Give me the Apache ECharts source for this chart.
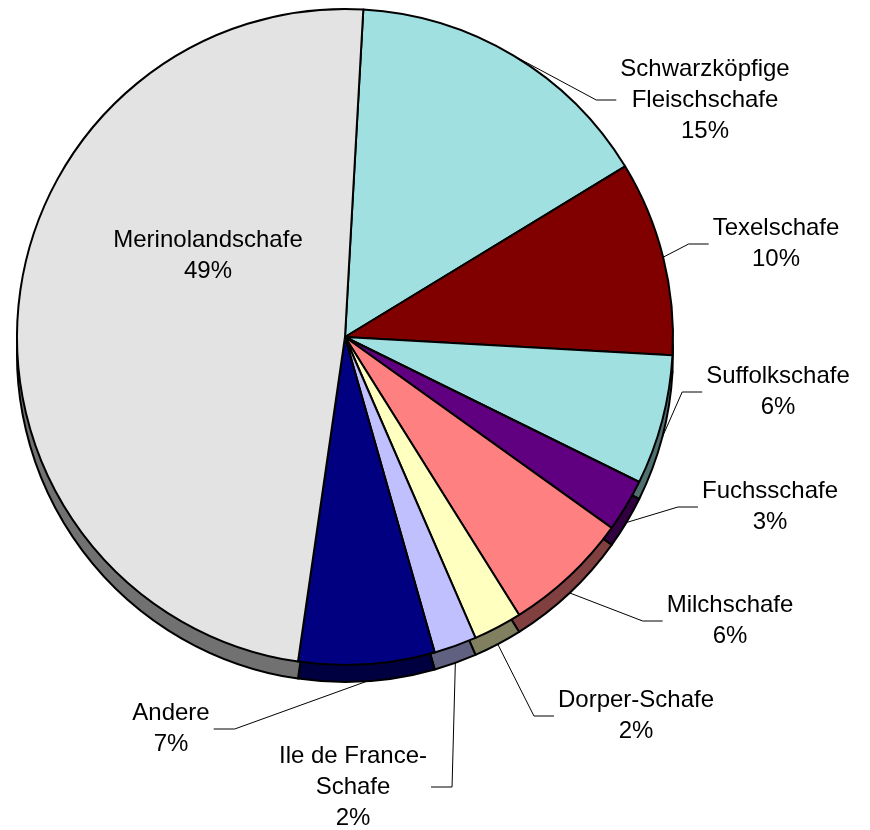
<!DOCTYPE html>
<html>
<head>
<meta charset="utf-8">
<script src="https://cdn.jsdelivr.net/npm/echarts@6/dist/echarts.min.js"></script>
<style>html,body{margin:0;padding:0;background:#fff}#c{width:870px;height:830px}</style>
</head>
<body>
<div id="c"></div>
<script>
// Data (clockwise from top)
var categories = ['Schwarzköpfige\nFleischschafe', 'Texelschafe', 'Suffolkschafe', 'Fuchsschafe', 'Milchschafe', 'Dorper-Schafe', 'Ile de France-\nSchafe', 'Andere', 'Merinolandschafe'];
var shares = [15.4, 9.6, 6.4, 2.6, 6.2, 2.4, 2.1, 6.7, 48.6];

// Styles
var topColors = ['#A0E0E0', '#800000', '#A0E0E0', '#600080', '#FF8080', '#FFFFC0', '#C0C0FF', '#000080', '#E3E3E3'];
var sideColors = ['#507070', '#400000', '#507070', '#300040', '#804040', '#808060', '#606080', '#000040', '#717171'];
// label centre positions and which side of the label the leader line attaches to
var labelPos = [[705, 100, 'L'], [776, 244, 'L'], [778, 392, 'L'], [770, 507, 'L'], [730, 621, 'L'], [636, 716, 'L'], [353, 787, 'R'], [171, 729, 'R'], [208, 256, 'N']];

var CX = 345, CY = 337, R = 328, DEPTH = 17, START = 86.8;

var chart = echarts.init(document.getElementById('c'), null, {renderer: 'canvas'});

var topData = categories.map(function (n, i) {
  var d = {name: n, value: shares[i], itemStyle: {color: topColors[i]}};
  if (i === 8) { d.label = {position: 'inside'}; d.labelLine = {show: false}; }
  return d;
});
var sideData = categories.map(function (n, i) {
  return {name: n, value: shares[i], itemStyle: {color: sideColors[i]}};
});

chart.setOption({
  animation: false,
  backgroundColor: '#ffffff',
  series: [
    {
      type: 'pie',
      silent: true,
      z: 1,
      center: [CX, CY + DEPTH],
      radius: [0, R],
      startAngle: START,
      clockwise: true,
      avoidLabelOverlap: false,
      label: {show: false},
      labelLine: {show: false},
      itemStyle: {borderColor: '#000', borderWidth: 2},
      data: sideData
    },
    {
      type: 'pie',
      z: 2,
      center: [CX, CY],
      radius: [0, R],
      startAngle: START,
      clockwise: true,
      avoidLabelOverlap: false,
      itemStyle: {borderColor: '#000', borderWidth: 2},
      label: {
        show: true,
        position: 'outside',
        color: '#000',
        fontFamily: 'Liberation Sans, Arial, sans-serif',
        fontSize: 24,
        lineHeight: 31,
        align: 'center',
        formatter: function (p) { return p.name + '\n' + Math.round(p.percent) + '%'; }
      },
      labelLine: {show: true, lineStyle: {color: '#000', width: 1}},
      labelLayout: function (p) {
        var lp = labelPos[p.dataIndex];
        var res = {x: lp[0], y: lp[1], align: 'center', verticalAlign: 'middle'};
        if (lp[2] !== 'N' && p.labelLinePoints) {
          var p0 = p.labelLinePoints[0].slice();
          if (p0[1] > CY) p0[1] += DEPTH;
          var hw = p.labelRect.width / 2 + 4;
          var end, bend;
          if (lp[2] === 'L') { end = [lp[0] - hw, lp[1]]; bend = [end[0] - 20, lp[1]]; }
          else { end = [lp[0] + hw, lp[1]]; bend = [end[0] + 21, lp[1]]; }
          res.labelLinePoints = [p0, bend, end];
        }
        return res;
      },
      data: topData
    }
  ]
});
</script>
</body>
</html>
